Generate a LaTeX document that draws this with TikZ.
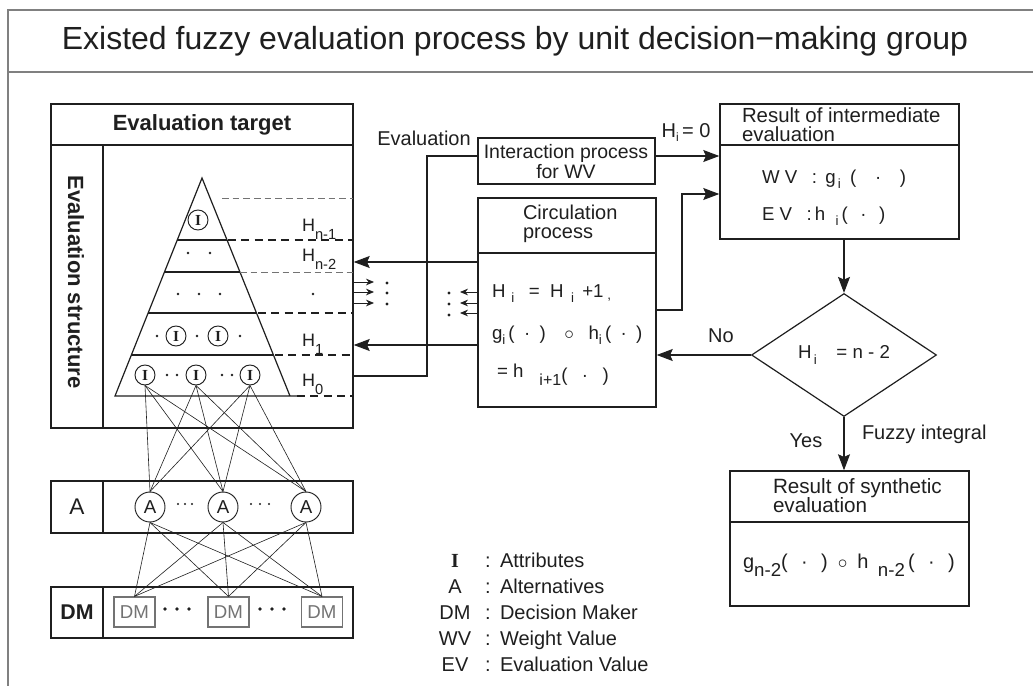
\documentclass[tikz,border=0pt]{standalone}
\usepackage{fontspec}
\setmainfont{Liberation Sans}
\newfontfamily\attrfont{Liberation Serif}
\usetikzlibrary{arrows.meta,shapes.geometric,fit,calc}

\definecolor{ink}{gray}{0.12}
\definecolor{soft}{gray}{0.45}
\definecolor{rulegray}{gray}{0.5}
\def\pxu{0.75pt}
% lowered index: \idx{drop}{size}{text}
\newcommand{\idx}[3]{\raisebox{-#1}{\fontsize{#2}{#2}\selectfont #3}}

\tikzset{
  txt/.style={inner sep=0pt, outer sep=0pt, text=ink},
  fs/.style={font=\fontsize{#1}{#1}\selectfont},
  cell/.style={draw=ink, line width=1.1pt, inner sep=0pt, text=ink},
  conn/.style={draw=ink, line width=0.8pt},
  arr/.style={conn, -{Stealth[length=12pt,width=9pt,inset=2pt]}},
  minitip/.style={draw=ink, line width=0.6pt, -{Stealth[length=6pt,width=5pt]}},
  link/.style={draw=ink, line width=0.45pt},
  layerline/.style={draw=ink, line width=0.9pt},
  icirc/.style={circle, draw=ink, line width=0.7pt, minimum size=20*\pxu, inner sep=0pt, text=ink, font=\attrfont\bfseries\fontsize{11.5}{11.5}\selectfont},
  acirc/.style={circle, draw=ink, line width=0.7pt, minimum size=30*\pxu, inner sep=0pt, text=ink, font=\fontsize{14}{14}\selectfont},
  dmbox/.style={draw=soft, line width=0.9pt, minimum width=41*\pxu, minimum height=30*\pxu, inner sep=0pt, text=soft, font=\fontsize{14}{14}\selectfont},
  darkdash/.style={draw=ink, line width=1pt, dash pattern=on 6pt off 4pt},
  lightdash/.style={draw=soft, line width=0.5pt, dash pattern=on 5pt off 3pt},
}

\begin{document}
\begin{tikzpicture}[x=0.75pt, y=-0.75pt]
\useasboundingbox (0,0) rectangle (1033,686);
\fill[white] (0,0) rectangle (1033,686);

% outer frame and title band
\draw[rulegray, line width=1.6pt] (8,686) -- (8,10) -- (1033,10);
\draw[rulegray, line width=1.6pt] (8,72) -- (1033,72);
\node[txt, fs=24] (title) at (515,41) {Existed fuzzy evaluation process by unit decision−making group};

% ---------- evaluation structure panel ----------
\node[cell, fit={(51,104)(353,145)}] (tgt) {};
\node[txt, font=\bfseries\fontsize{16.5}{16.5}\selectfont] (tgtlabel) at (tgt.center) {Evaluation target};
\node[cell, fit={(51,145)(103,428)}] (side) {};
\node[txt, rotate=-90, font=\bfseries\fontsize{16.5}{16.5}\selectfont] (sidelabel) at (76,282) {Evaluation structure};
\node[cell, fit={(103,145)(353,428)}] (plane) {};

% hierarchy triangle with its layers
\draw[layerline] (297,396) -- (115,396) -- (202,178) -- (290,396);
\draw[layerline] (177.3,240) -- (227,240);
\draw[layerline] (164.5,272) -- (240,272);
\draw[layerline] (148.1,313) -- (256.5,313);
\draw[layerline] (131.4,355) -- (273.5,355);

% level markers
\draw[lightdash] (222,198) -- (353,198);
\draw[darkdash] (228,240) -- (353,240);
\draw[lightdash] (240,272) -- (353,272);
\draw[darkdash] (258,313) -- (353,313);
\draw[darkdash] (275,355) -- (353,355);
\draw[darkdash] (297,396) -- (353,396);
\node[txt, fs=13.5, anchor=base west] (hn1) at (302,231) {H\idx{6pt}{11}{n-1}};
\node[txt, fs=13.5, anchor=base west] (hn2) at (302,261) {H\idx{6pt}{11}{n-2}};
\node[txt, fs=13.5, anchor=base west] (hone) at (302,346) {H\idx{6pt}{11}{1}};
\node[txt, fs=13.5, anchor=base west] (hzero) at (302,386) {H\idx{6pt}{11}{0}};
\fill[ink] (313,294) circle (1.1pt);

% attribute nodes
\node[icirc] (i0) at (198,220) {I};
\node[icirc] (i21) at (176,336) {I};
\node[icirc] (i22) at (218,336) {I};
\node[icirc] (i31) at (145,375) {I};
\node[icirc] (i32) at (196,375) {I};
\node[icirc] (i33) at (250,375) {I};
\foreach \p in {(188,253),(210,253),(178,294),(199,294),(220,294),
                (157,336),(197,336),(240,336),
                (167,375),(177,375),(222,375),(232,375)}
  \fill[ink] \p circle (1.1pt);

% alternatives row
\node[cell, fit={(51,481)(103,533)}] (arow) {};
\node[txt, fs=17] (arowlabel) at (arow.center) {A};
\node[cell, fit={(103,481)(353,533)}] (aplane) {};
\node[acirc] (a1) at (150,507) {A};
\node[acirc] (a2) at (223,507) {A};
\node[acirc] (a3) at (306,507) {A};
\foreach \p in {(178,504),(185,504),(192,504),(251,504),(260,504),(269,504)}
  \fill[ink] \p circle (0.9pt);

% decision maker row
\node[cell, fit={(51,587)(103,638)}] (dmrow) {};
\node[txt, font=\bfseries\fontsize{16}{16}\selectfont] (dmrowlabel) at (dmrow.center) {DM};
\node[cell, fit={(103,587)(353,638)}] (dmplane) {};
\node[dmbox] (d1) at (134.5,612) {DM};
\node[dmbox] (d2) at (228.5,612) {DM};
\node[dmbox] (d3) at (322,612) {DM};
\foreach \p in {(165,609),(177,609),(189,609),(260,609),(272,609),(284,609)}
  \fill[ink] \p circle (1.4pt);

% attribute -> alternative -> decision maker links
\foreach \s in {i31,i32,i33}
  \foreach \t in {a1,a2,a3}
    \draw[link] (\s.south) -- (\t.north);
\foreach \s in {a1,a2,a3}
  \foreach \t in {d1,d2,d3}
    \draw[link] (\s.south) -- (\t.north);

% ---------- process part ----------
\coordinate (yA) at (0,156);
\coordinate (yB) at (0,262);
\coordinate (yC) at (0,345);
\coordinate (yD) at (0,310);
\coordinate (bendE) at (427,376);
\coordinate (bendC) at (682,194);

\node[txt, fs=15, anchor=base] (evlab) at (424,145) {Evaluation};
\node[cell, fit={(478,138)(655,184)}] (inter) {};
\node[txt, fs=14.6, anchor=base] (inter1) at (566,158) {Interaction process};
\node[txt, fs=14.6, anchor=base] (inter2) at (566,178) {for WV};

\node[cell, fit={(478,198)(656,253)}] (circhead) {};
\node[txt, fs=15, anchor=base west] (circ1) at (523,219) {Circulation};
\node[txt, fs=15, anchor=base west] (circ2) at (523,238) {process};
\node[cell, fit={(478,253)(656,407)}] (circbody) {};
\node[txt, fs=14, anchor=base west] (cb1) at (492,297)
  {H\idx{4pt}{10}{\ \,i}\enspace\ =\ \ H\idx{4pt}{10}{\ \ i}\ \,+1\idx{2pt}{10}{\ ,}};
\node[txt, fs=14, anchor=base west] (cb2) at (492,339)
  {g\idx{4pt}{10}{i}\,(\enspace·\enspace)\quad$\circ$\enspace\ h\idx{4pt}{10}{i}\,(\enspace·\enspace)};
\node[txt, fs=14, anchor=base west] (cb3) at (497,377)
  {=\ h\idx{6pt}{12}{\quad i+1}\raisebox{-3pt}{(\enspace\ ·\enspace\ )}};

\node[cell, fit={(720,104)(959,145)}] (reshead) {};
\node[txt, fs=15.3, anchor=base west] (res1) at (742,122) {Result of intermediate};
\node[txt, fs=15.3, anchor=base west] (res2) at (742,141) {evaluation};
\node[cell, fit={(720,145)(959,239)}] (resbody) {};
\node[txt, fs=14, anchor=base west] (wv) at (762,183)
  {W\ V\enspace\ :\ \,g\idx{4pt}{10}{\,i}\enspace(\quad·\quad)};
\node[txt, fs=14, anchor=base west] (ev) at (762,220)
  {E\ V\enspace\ :\,h\ \ \idx{4pt}{10}{i}\,(\enspace\,·\enspace\,)};

\node[diamond, draw=ink, line width=0.9pt, minimum width=185*\pxu, minimum height=123*\pxu,
      inner sep=0pt, aspect=1.5, text=ink, fs=14] (dec) at (844,355)
      {H\idx{4pt}{10}{\,i}\enspace\ \ = n - 2};

\node[cell, fit={(730,471)(969,522)}] (synhead) {};
\node[txt, fs=15.5, anchor=base west] (syn1) at (773,493) {Result of synthetic};
\node[txt, fs=15.5, anchor=base west] (syn2) at (773,512) {evaluation};
\node[cell, fit={(730,522)(969,606)}] (synbody) {};
\node[txt, fs=15] (synval) at (849,565)
  {g\idx{6pt}{14}{n-2}(\enspace\,·\enspace\,)\enspace$\circ$\enspace h\idx{6pt}{14}{\enspace n-2}\,(\enspace\,·\enspace\,)};

% evaluation feed from the interaction process
\draw[conn] (inter.west |- yA) -| (bendE) -- (plane.east |- bendE);
\node[txt, fs=15, anchor=base] (h0lab) at (686,137) {H\idx{3pt}{9}{i}\,= 0};
\draw[arr] (inter.east |- yA) -- (resbody.west |- yA);

% circulation back into the hierarchy
\draw[arr] (circbody.west |- yB) -- (plane.east |- yB);
\draw[arr] (circbody.west |- yC) -- (plane.east |- yC);
\foreach \yy in {282,292,303}
  \draw[minitip] (353,\yy) -- (374,\yy);
\foreach \yy in {283,293,304}
  \fill[ink] (387,\yy) circle (1.2pt);
\foreach \yy in {292,303,313}
  \draw[minitip] (478,\yy) -- (460,\yy);
\foreach \yy in {293,304,315}
  \fill[ink] (449,\yy) circle (1.2pt);
\draw[arr] (circbody.east |- yD) -| (bendC) -- (resbody.west |- bendC);

% decision loop
\draw[arr] (resbody.south -| dec.north) -- (dec.north);
\draw[arr] (dec.west) -- (circbody.east |- dec.west);
\node[txt, fs=15, anchor=base] (nolab) at (721,342) {No};
\draw[arr] (dec.south) -- (synhead.north -| dec.south);
\node[txt, fs=15, anchor=base] (yeslab) at (806,447) {Yes};
\node[txt, fs=15, anchor=base west] (fuzlab) at (862,439) {Fuzzy integral};

% legend
\foreach \k/\yy/\sym/\desc in {I/567/{\attrfont\bfseries I}/Attributes,
                               A/593/A/Alternatives,
                               DM/619/DM/Decision Maker,
                               WV/645/WV/Weight Value,
                               EV/671/EV/Evaluation Value}{
  \node[txt, fs=15, anchor=base] (lg\k) at (455,\yy) {\sym};
  \node[txt, fs=15, anchor=base] (lgc\k) at (488,\yy) {:};
  \node[txt, fs=15, anchor=base west] (lgt\k) at (500,\yy) {\desc};
}
\end{tikzpicture}
\end{document}
